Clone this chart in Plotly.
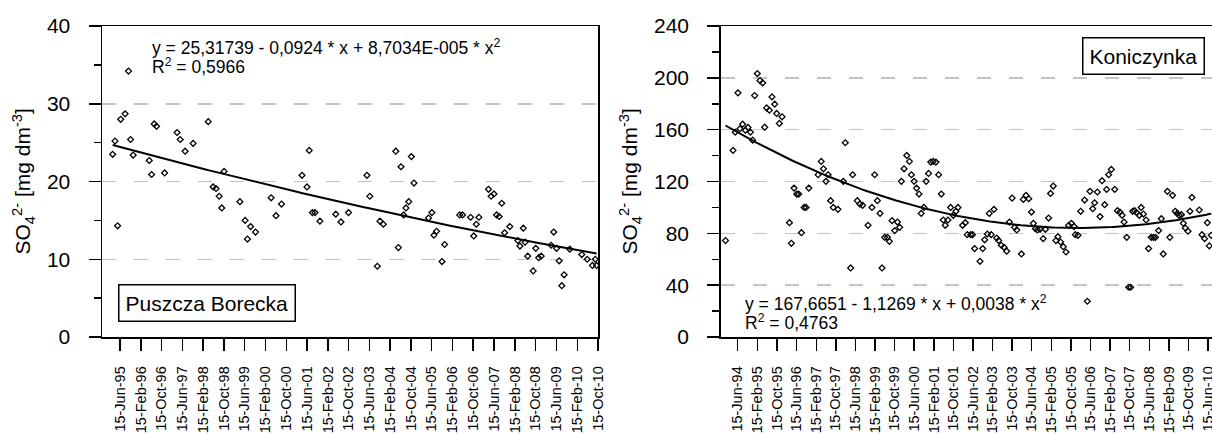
import numpy as np
import pandas as pd
import plotly.graph_objects as go

# ---------------- data: Puszcza Borecka ----------------
PB_BASE = "1995-06-15"          # months are counted from this date
PB_MONTHS = [-2.8, -1.9, -0.9, 0.3, 2.0, 3.3, 4.1, 5.1, 11.3, 12.2, 13.2, 14.1, 17.2, 22.0, 23.2, 25.1,
             28.2, 34.0, 35.9, 37.0, 38.2, 39.2, 40.1, 46.2, 48.2, 49.1, 50.3, 52.2, 58.2, 60.1, 62.2,
             70.1, 72.0, 72.9, 74.1, 75.1, 77.0, 83.1, 85.1, 88.0, 95.1, 96.2, 99.1, 100.1, 101.4,
             106.2, 107.2, 108.2, 109.2, 110.1, 111.2, 112.2, 113.2, 118.8, 120.1, 120.9, 121.9, 124.0,
             125.0, 130.8, 131.9, 135.0, 136.2, 137.2, 138.2, 141.9, 142.9, 144.0, 145.0, 146.0, 147.0,
             148.1, 150.1, 153.2, 154.0, 155.3, 156.0, 157.0, 159.1, 160.1, 161.2, 162.2, 166.0, 167.0,
             168.1, 169.1, 170.1, 171.0, 173.2, 177.8, 179.9, 181.9, 183.0, 183.5]
PB_SO4 = [23.5, 25.2, 14.3, 28.0, 28.7, 34.2, 25.4, 23.4, 22.7, 20.9, 27.4, 27.1, 21.1, 26.3, 25.4, 23.9,
          24.9, 27.7, 19.3, 19.1, 18.1, 16.6, 21.3, 17.4, 15.0, 12.6, 14.2, 13.5, 17.9, 15.6, 17.1,
          20.8, 19.3, 24.0, 16.0, 16.0, 14.9, 15.8, 14.8, 16.0, 20.8, 18.1, 9.1, 14.9, 14.5,
          23.9, 11.5, 21.9, 15.7, 16.6, 17.4, 23.2, 19.8, 15.3, 16.0, 13.1, 13.6, 9.7,
          11.9, 15.7, 15.7, 15.4, 13.0, 14.5, 15.4, 19.0, 18.1, 18.4, 15.7, 15.5, 17.2,
          13.4, 14.2, 12.4, 11.7, 14.0, 12.2, 10.4, 8.5, 11.4, 10.2, 10.4, 11.8, 13.5,
          11.4, 9.8, 6.6, 8.0, 11.3, 10.6, 10.0, 9.2, 10.0, 9.2]
PB_TICKS = ["15-Jun-95", "15-Feb-96", "15-Oct-96", "15-Jun-97", "15-Feb-98", "15-Oct-98", "15-Jun-99",
            "15-Feb-00", "15-Oct-00", "15-Jun-01", "15-Feb-02", "15-Oct-02", "15-Jun-03", "15-Feb-04",
            "15-Oct-04", "15-Jun-05", "15-Feb-06", "15-Oct-06", "15-Jun-07", "15-Feb-08", "15-Oct-08",
            "15-Jun-09", "15-Feb-10", "15-Oct-10"]
PB_FIT = [25.31739, -0.0924, 8.7034e-5]   # y = a + b*x + c*x^2
PB_FIT_X_AT_BASE = 9.5
PB_LABEL = "Puszcza Borecka"
PB_EQ = "y = 25,31739 - 0,0924 * x + 8,7034E-005 * x<sup>2</sup>"
PB_R2 = "R<sup>2</sup> = 0,5966"

# ---------------- data: Koniczynka ----------------
K_BASE = "1994-06-15"
K_MONTHS = [-5.0, -1.9, -1.0, 0.1, 0.9, 2.0, 3.1, 4.2, 5.2, 6.1, 6.9, 8.0, 9.1, 10.2, 11.0, 11.8, 12.9,
            14.0, 15.1, 15.9, 17.0, 18.1, 21.1, 21.9, 23.0, 24.1, 24.9, 26.0, 27.1, 27.9, 29.0, 32.8,
            34.1, 35.0, 36.0, 36.9, 37.9, 39.0, 40.9, 43.1, 43.9, 46.1, 46.9, 48.8, 49.9, 51.0, 53.2,
            54.8, 55.9, 57.0, 58.1, 58.9, 60.0, 61.1, 61.9, 63.0, 64.1, 65.2, 66.1, 66.8, 67.9, 69.0,
            70.1, 70.9, 72.0, 73.0, 74.0, 74.9, 76.0, 76.9, 77.9, 78.8, 79.8, 80.9, 82.0, 83.1, 83.9,
            84.7, 85.8, 86.9, 88.0, 89.1, 89.9, 91.8, 92.9, 93.7,
            95.1, 95.9, 96.7, 98.9, 100.0, 100.8, 101.9, 102.7, 103.5, 104.6,
            105.7, 106.5, 107.6, 108.7, 109.8, 110.9, 112.0, 113.0, 113.9, 115.8,
            116.6, 117.7, 118.8, 119.9, 120.7, 121.5, 122.3, 123.4, 124.7, 125.6,
            126.9, 127.7, 128.8, 129.9, 130.7, 131.8, 132.9, 134.0, 135.1, 136.2,
            137.3, 137.8, 138.9, 140.0, 141.6, 142.7, 143.8, 144.9, 145.7, 146.8,
            147.9, 148.7, 149.8, 150.6, 151.4, 152.5, 153.9, 155.0, 156.0, 156.9,
            157.7, 158.8, 159.6, 160.4, 161.2, 162.0, 162.9, 163.9, 164.7, 165.6,
            166.7, 167.7, 168.8, 169.7, 170.5, 171.8, 172.9, 173.7, 175.4, 176.4,
            177.5, 178.6, 179.4, 180.2, 181.1, 181.9, 182.7, 183.8, 184.6, 185.4,
            188.4, 189.5, 190.6, 191.7, 192.5, 193.3]
K_SO4 = [74.4, 144.0, 158.1, 188.4, 160.7, 164.2, 159.6, 161.7, 158.1, 151.9, 186.3, 203.3, 197.9, 196.1,
         161.9, 176.8, 175.0, 185.3, 179.7, 172.5, 164.8, 169.9, 88.2, 72.3, 114.9, 110.3, 110.3, 80.5,
         100.0, 100.0, 114.9, 125.2, 135.5, 129.8, 120.1, 125.2, 105.2, 100.0, 98.5, 120.1, 149.9, 53.3,
         125.2, 105.2, 102.6, 101.6, 86.2, 100.0, 125.2, 105.2, 95.4, 53.3, 76.9, 76.9, 73.8, 89.8, 82.1,
         88.7, 84.6, 120.1, 129.8, 140.1, 135.5, 125.2, 120.1, 114.9, 110.3, 95.4, 100.0, 120.1, 126.2,
         135.0, 135.5, 135.0, 125.2, 110.3, 90.3, 86.2, 90.3, 100.0, 93.9, 97.0, 100.0, 86.2, 88.2, 79.0,
         79.0, 79.0, 68.2, 58.4, 68.2, 75.0, 79.5, 95.4, 79.0, 98.5,
         76.4, 74.4, 70.8, 69.2, 66.2, 88.7, 107.2, 84.6, 82.6, 64.1,
         106.2, 109.3, 106.7, 96.4, 87.7, 83.6, 82.6, 83.1, 75.9, 83.1,
         91.8, 110.8, 116.5, 74.4, 77.4, 73.3, 69.7, 65.6, 86.2, 87.7,
         85.2, 79.0, 78.5, 97.0, 105.7, 27.6, 112.4, 99.0, 103.6, 111.9,
         92.9, 120.6, 102.1, 113.9, 125.2, 129.3, 113.9, 97.5, 96.4, 93.9,
         88.7, 76.9, 38.4, 38.4, 97.0, 97.5, 95.9, 93.9, 100.0, 94.9,
         90.3, 68.2, 76.9, 76.9, 76.9, 82.1, 91.3, 64.1, 112.4, 76.9,
         109.3, 97.0, 95.4, 93.9, 94.4, 87.7, 84.1, 81.6, 97.0, 107.7,
         98.0, 79.0, 75.9, 88.2, 70.3, 78.5]
K_TICKS = ["15-Jun-94", "15-Feb-95", "15-Oct-95", "15-Jun-96", "15-Feb-97", "15-Oct-97", "15-Jun-98",
           "15-Feb-99", "15-Oct-99", "15-Jun-00", "15-Feb-01", "15-Oct-01", "15-Jun-02", "15-Feb-03",
           "15-Oct-03", "15-Jun-04", "15-Feb-05", "15-Oct-05", "15-Jun-06", "15-Feb-07", "15-Oct-07",
           "15-Jun-08", "15-Feb-09", "15-Oct-09", "15-Jun-10"]
K_FIT = [167.6651, -1.1269, 0.0038]
K_FIT_X_AT_BASE = 9.0
K_LABEL = "Koniczynka"
K_EQ = "y = 167,6651 - 1,1269 * x + 0,0038 * x<sup>2</sup>"
K_R2 = "R<sup>2</sup> = 0,4763"

Y_TITLE = "SO<sub>4</sub><sup>2-</sup> [mg dm<sup>-3</sup>]"

# ---------------- helpers ----------------
DAYS_PER_MONTH = 30.4375
W, H = 1212, 434
FONT = "Liberation Sans, Arial, sans-serif"


def to_dates(base, months):
    return pd.Timestamp(base) + pd.to_timedelta(np.asarray(months, float) * DAYS_PER_MONTH, unit="D")


def tick_dates(labels):
    return [d.strftime("%Y-%m-%d") for d in pd.to_datetime(labels, format="%d-%b-%y")]


def fit_curve(base, months, coefs, x_at_base):
    m = np.linspace(min(months), max(months), 300)
    x = m + x_at_base
    y = coefs[0] + coefs[1] * x + coefs[2] * x ** 2
    return to_dates(base, m), y


def px_x(p):
    return p / W


def px_y(p):
    return 1 - p / H


fig = go.Figure()

marker = dict(symbol="diamond-open", size=4.5, color="black", line=dict(width=1.3, color="black"))

# left panel
fig.add_trace(go.Scatter(x=to_dates(PB_BASE, PB_MONTHS), y=PB_SO4, mode="markers", marker=marker,
                         xaxis="x", yaxis="y", showlegend=False))
fx, fy = fit_curve(PB_BASE, PB_MONTHS, PB_FIT, PB_FIT_X_AT_BASE)
fig.add_trace(go.Scatter(x=fx, y=fy, mode="lines", line=dict(color="black", width=2),
                         xaxis="x", yaxis="y", showlegend=False))

# right panel
fig.add_trace(go.Scatter(x=to_dates(K_BASE, K_MONTHS), y=K_SO4, mode="markers", marker=marker,
                         xaxis="x2", yaxis="y2", showlegend=False))
fx, fy = fit_curve(K_BASE, K_MONTHS, K_FIT, K_FIT_X_AT_BASE)
fig.add_trace(go.Scatter(x=fx, y=fy, mode="lines", line=dict(color="black", width=2),
                         xaxis="x2", yaxis="y2", showlegend=False))

Y_DOMAIN = [px_y(337), px_y(26)]


def xaxis_cfg(domain, labels, rng, anchor, mirror):
    return dict(domain=domain, anchor=anchor, type="date", range=rng,
                tickmode="array", tickvals=tick_dates(labels), ticktext=labels, tickangle=-90,
                ticks="outside", ticklen=12, tickwidth=1.5, tickcolor="black",
                showline=True, linecolor="black", linewidth=1.5, mirror=mirror,
                showgrid=False, zeroline=False, automargin=False, ticklabeloverflow="allow",
                tickfont=dict(family=FONT, size=14.5, color="black"), ticklabelstandoff=10)


def yaxis_cfg(anchor, rng, dtick, mirror):
    return dict(domain=Y_DOMAIN, anchor=anchor, range=rng, tickmode="linear", tick0=0, dtick=dtick,
                ticks="outside", ticklen=12, tickwidth=1.5, tickcolor="black",
                minor=dict(ticks="outside", ticklen=7, tickwidth=1.5, tickcolor="black",
                           dtick=dtick / 2, tick0=0, showgrid=False),
                showline=True, linecolor="black", linewidth=1.5, mirror=mirror,
                showgrid=True, gridcolor="#c4c4c4", gridwidth=1.5, griddash="14px,18px",
                zeroline=False, automargin=False,
                tickfont=dict(family=FONT, size=21, color="black"), ticklabelstandoff=14)


pb_range = [to_dates(PB_BASE, [-6.9])[0], to_dates(PB_BASE, [184.05])[0]]
k_range = [to_dates(K_BASE, [-6.95])[0], to_dates(K_BASE, [193.6])[0]]

fig.update_layout(
    width=W, height=H, margin=dict(l=0, r=0, t=0, b=0),
    paper_bgcolor="white", plot_bgcolor="white",
    font=dict(family=FONT, color="black"),
    xaxis=xaxis_cfg([px_x(102), px_x(598)], PB_TICKS, pb_range, "y", True),
    yaxis=yaxis_cfg("x", [0, 40], 10, True),
    xaxis2=xaxis_cfg([px_x(720.7), 1.0], K_TICKS, k_range, "y2", True),
    yaxis2=yaxis_cfg("x2", [0, 240], 40, False),
)

ann = []
# y-axis titles
for xp in (23, 630):
    ann.append(dict(text=Y_TITLE, x=px_x(xp), y=(Y_DOMAIN[0] + Y_DOMAIN[1]) / 2, xref="paper", yref="paper",
                    textangle=-90, showarrow=False, xanchor="center", yanchor="middle",
                    font=dict(family=FONT, size=21, color="black")))
# equations
for text, xp, yp in ((PB_EQ, 150.7, 47), (PB_R2, 150.7, 66), (K_EQ, 744, 303.3), (K_R2, 744, 322)):
    ann.append(dict(text=text, x=px_x(xp), y=px_y(yp), xref="paper", yref="paper", showarrow=False,
                    xanchor="left", yanchor="middle", borderpad=0,
                    font=dict(family=FONT, size=17.5, color="black")))
# site labels in boxes
for text, xp, yp in ((PB_LABEL, 207, 303.3), (K_LABEL, 1143.7, 56)):
    ann.append(dict(text=text, x=px_x(xp), y=px_y(yp), xref="paper", yref="paper", showarrow=False,
                    xanchor="center", yanchor="middle", bordercolor="black", borderwidth=1.5,
                    borderpad=6, bgcolor="white", font=dict(family=FONT, size=21, color="black")))
fig.update_layout(annotations=ann)

fig.write_html("out.html", config={"displayModeBar": False, "staticPlot": True},
               post_script="document.body.style.margin='0';document.body.style.overflow='hidden';")
